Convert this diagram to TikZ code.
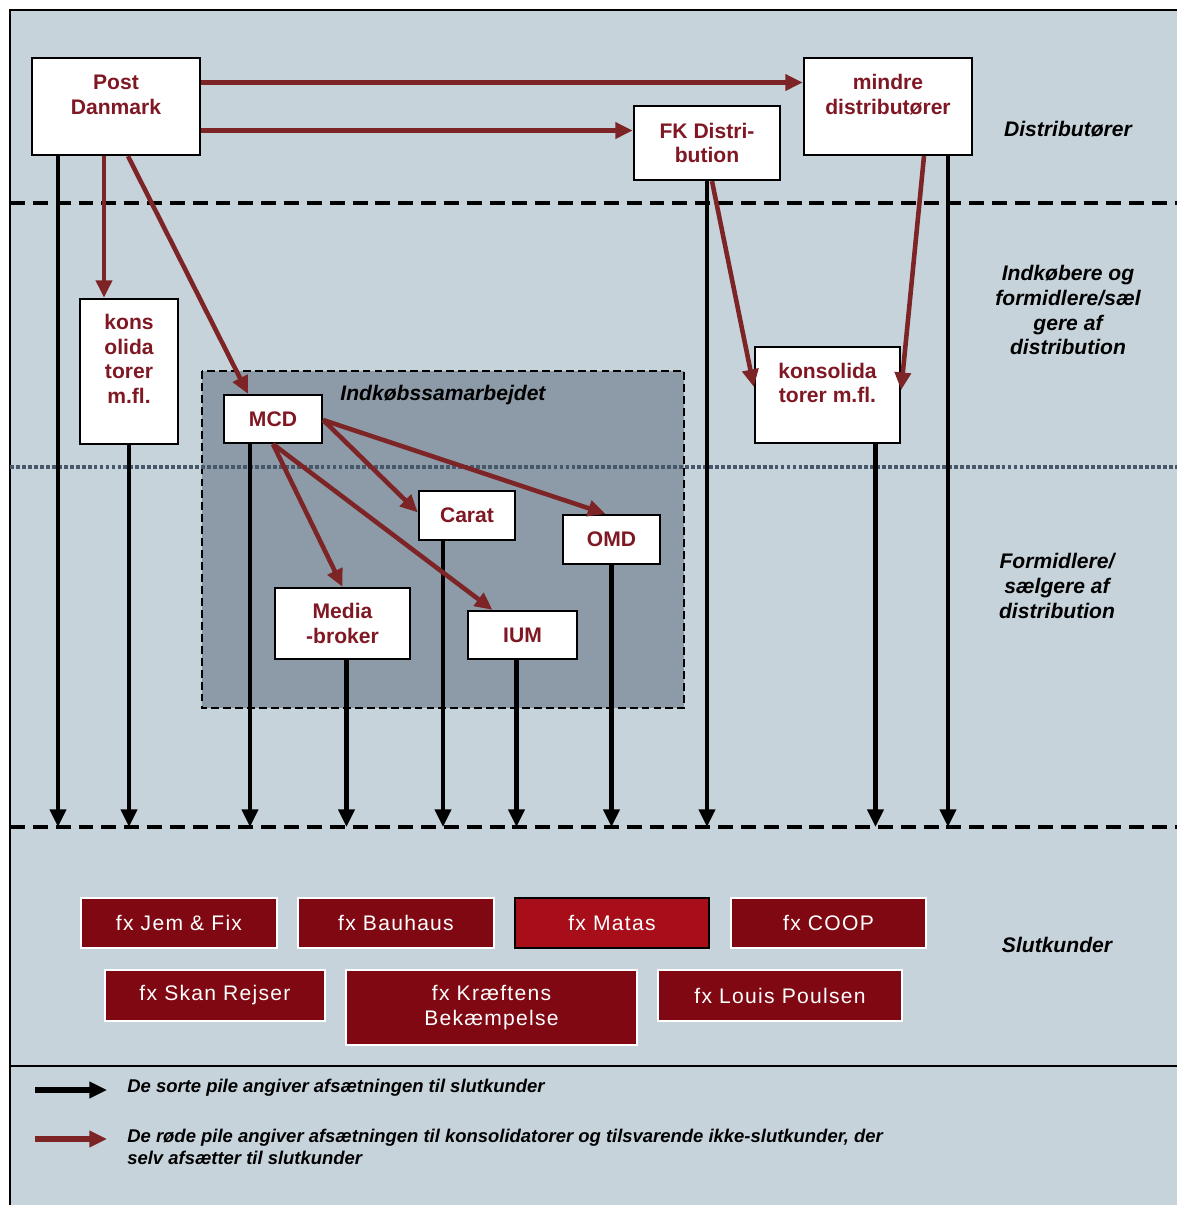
\documentclass[tikz,border=0pt]{standalone}
\usepackage{fontspec}
\setmainfont{Liberation Sans}
\usetikzlibrary{arrows.meta,calc}
\definecolor{bggray}{RGB}{199,211,219}
\definecolor{boxgray}{RGB}{141,155,168}
\definecolor{slate}{RGB}{70,88,105}
\definecolor{dkred}{RGB}{128,24,36}
\definecolor{pilred}{RGB}{125,36,38}
\definecolor{kundered}{RGB}{128,8,18}
\definecolor{matasred}{RGB}{168,14,26}
\tikzset{
  box/.style={draw=black, line width=1.3pt, fill=white, text=dkred, inner sep=0pt,
    font=\bfseries\fontsize{12}{14}\selectfont, align=center},
  sz/.style 2 args={minimum width=#1*0.02cm, minimum height=#2*0.02cm},
  kunde/.style={draw=white, line width=0.8pt, fill=kundered, text=white, inner sep=0pt,
    font=\fontsize{12}{14}\selectfont\addfontfeature{LetterSpace=6}, align=center},
  redarr/.style={draw=pilred, line width=2.6pt, -{Triangle[length=10pt,width=9pt]}},
  blackarr/.style={draw=black, line width=2.6pt, -{Triangle[length=10pt,width=9pt]}},
  lag/.style={font=\bfseries\itshape\fontsize{12}{14.2}\selectfont, align=center},
  legtxt/.style={font=\bfseries\itshape\fontsize{10.5}{12.5}\selectfont, align=left, anchor=west, inner sep=0pt},
  levelline/.style={line width=1.8pt, dash pattern=on 8.5pt off 4.5pt},
}

\begin{document}
\begin{tikzpicture}[x=0.02cm,y=-0.02cm]
    \useasboundingbox (0,0) rectangle (1177,1205);
    % baggrund og ramme
    \fill[bggray] (10,10) rectangle (1177,1205);
    \fill[boxgray] (202,371) rectangle (684,708);
    \draw[line width=1.2pt, dash pattern=on 4.5pt off 2.3pt] (202,371) rectangle (684,708);
    \draw[line width=1.3pt] (1177,10) -- (10,10) -- (10,1205);
    \draw[line width=1.3pt] (10,1066) -- (1177,1066);
    \draw[levelline] (10,203) -- (1177,203);
    \draw[levelline] (10,827) -- (1177,827);
    \draw[slate, line width=1.8pt, dash pattern=on 2.2pt off 1.2pt] (10,467) -- (1177,467);
    \coordinate (bund) at (0,827);

    % aktoerer
    \node[box, sz={168}{97}] (pd) at (116,106.5) {Post\\Danmark\\[-4.5pt]\strut};
    \node[box, sz={168}{97}] (mindre) at (888,106.5) {mindre\\distributører\\[-4.5pt]\strut};
    \node[box, sz={146}{74}] (fk) at (707,143) {FK Distri-\\bution};
    \node[box, sz={98}{145}] (kons) at (129,371.5) {kons\\olida\\torer\\m.fl.\\[-4pt]\strut};
    \node[box, sz={145}{96}] (konsb) at (827.5,395) {konsolida\\torer m.fl.\\[-4.5pt]\strut};
    \node[box, sz={98}{48}] (mcd) at (273,419) {MCD};
    \node[box, sz={96}{49}] (carat) at (467,515.5) {Carat};
    \node[box, sz={97}{49}] (omd) at (611.5,539.5) {OMD};
    \node[box, sz={135}{71}] (media) at (342.5,623.5) {Media\\-broker};
    \node[box, sz={109}{48}] (ium) at (522.5,635) {IUM};
    \node[lag] (samarb) at (443,395) {Indkøbssamarbejdet};

    % niveauer
    \node[lag] (niv1) at (1068,129) {Distributører};
    \node[lag] (niv2) at (1068,310) {Indkøbere og\\formidlere/sæl\\gere af\\distribution};
    \node[lag] (niv3) at (1057,586) {Formidlere/\\sælgere af\\distribution};
    \node[lag] (niv4) at (1057,945) {Slutkunder};

    % sorte pile til slutkunder
    \foreach \n/\dx in {pd/-58,kons/0,mcd/-23,media/4,carat/-24,ium/-6,omd/0,fk/0,konsb/48,mindre/60}
        \draw[blackarr] ($(\n.south)+(\dx,0)$) coordinate (s) -- (s |- bund);

    % roede pile
    \draw[redarr] ($(pd.east)+(0,-24)$) coordinate (r1) -- (r1 -| mindre.west);
    \draw[redarr] ($(pd.east)+(0,24)$) coordinate (r2) -- (r2 -| fk.west);
    \draw[redarr] ($(pd.south)+(-12,0)$) coordinate (r3) -- (r3 |- kons.north);
    \draw[redarr] ($(pd.south)+(12,0)$) -- ($(mcd.north)+(-25,0)$);
    \draw[redarr] ($(fk.south)+(5,0)$) -- ($(konsb.west)+(0,-8)$);
    \draw[redarr] ($(mindre.south)+(36,0)$) -- ($(konsb.east)+(0,-5)$);
    \draw[redarr] ($(mcd.east)+(0,1)$) -- ($(carat.west)+(0,-3)$);
    \draw[redarr] ($(mcd.east)+(0,1)$) -- ($(omd.north)+(-6,0)$);
    \draw[redarr] (mcd.south) -- (media.north);
    \draw[redarr] (mcd.south) -- ($(ium.north)+(-30,0)$);

    % slutkunder
    \node[kunde, sz={196}{50}] (jem) at (179,923) {fx Jem \& Fix};
    \node[kunde, sz={196}{50}] (bau) at (396,923) {fx Bauhaus};
    \node[kunde, sz={194}{50}, fill=matasred, draw=black, line width=1.3pt] (matas) at (612,923) {fx Matas};
    \node[kunde, sz={195}{50}] (coop) at (828.5,923) {fx COOP};
    \node[kunde, sz={220}{51}] (skan) at (215,995.5) {fx Skan Rejser};
    \node[kunde, sz={291}{75}] (kraeft) at (491.5,1007.5) {fx Kræftens\\Bekæmpelse};
    \node[kunde, sz={244}{51}] (louis) at (780,995.5) {fx Louis Poulsen};

    % forklaring
    \coordinate (sortA) at (35,1090);
    \coordinate (sortB) at (107,1090);
    \coordinate (roedA) at (35,1139);
    \coordinate (roedB) at (107,1139);
    \draw[blackarr, line width=3pt] (sortA) -- (sortB);
    \draw[redarr, line width=3pt] (roedA) -- (roedB);
    \node[legtxt] (sorttxt) at (127,1088) {De sorte pile angiver afsætningen til slutkunder};
    \node[legtxt] (roedtxt) at (127,1147) {De røde pile angiver afsætningen til konsolidatorer og tilsvarende ikke-slutkunder, der\\selv afsætter til slutkunder};
\end{tikzpicture}
\end{document}
